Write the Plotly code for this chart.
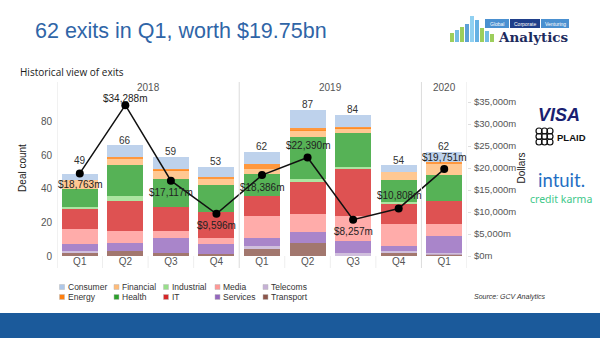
import plotly.graph_objects as go

# Exits per quarter, split by sector (deal counts)
quarters = ["Q1", "Q2", "Q3", "Q4", "Q1", "Q2", "Q3", "Q4", "Q1"]
years = ["2018", "2019", "2020"]
year_of_quarter = ["2018"] * 4 + ["2019"] * 4 + ["2020"]

transport = [2, 3, 2, 1, 4, 8, 0, 2, 1]
telecoms = [1, 0, 0, 0, 2, 0, 2, 1, 1]
services = [4, 5, 9, 6, 5, 6, 7, 3, 10]
media = [9, 7, 4, 4, 13, 11, 15, 13, 7]
it = [12, 18, 14, 15, 12, 19, 28, 12, 14]
industrial = [1, 3, 0, 0, 0, 2, 1, 1, 0]
health = [11, 18, 17, 16, 13, 25, 20, 13, 15]
financial = [5, 4, 5, 4, 3, 4, 3, 5, 7]
energy = [0, 1, 1, 1, 3, 1, 1, 0, 1]
consumer = [4, 7, 7, 6, 7, 11, 7, 4, 6]

# Total exit value per quarter, $m
dollars = [18763, 34288, 17117, 9596, 18386, 22390, 8257, 10808, 19751]

count_ticks = [0, 20, 40, 60, 80]
dollar_ticks = [0, 5000, 10000, 15000, 20000, 25000, 30000, 35000]

# Stack order bottom -> top
stack = [
    ("Transport", transport, "#8c564b"),
    ("Telecoms", telecoms, "#c5b0d5"),
    ("Services", services, "#9467bd"),
    ("Media", media, "#ff9896"),
    ("IT", it, "#d62728"),
    ("Industrial", industrial, "#98df8a"),
    ("Health", health, "#2ca02c"),
    ("Financial", financial, "#ffbb78"),
    ("Energy", energy, "#ff7f0e"),
    ("Consumer", consumer, "#aec7e8"),
]
colors = {name: c for name, _, c in stack}
legend_columns = [("Consumer", "Energy"), ("Financial", "Health"),
                  ("Industrial", "IT"), ("Media", "Services"),
                  ("Telecoms", "Transport")]

W, H = 600, 338
L, R, T, B = 57, 133, 80, 82
PW, PH = W - L - R, H - T - B
FONT = "Liberation Sans, Arial, sans-serif"


def fx(px):
    return (px - L) / PW


def fy(py):
    return (H - B - py) / PH


def note(px, py, text, size, color, family=FONT, xanchor="center", yanchor="middle", pad=1):
    return dict(x=fx(px), y=fy(py), xref="paper", yref="paper", text=text, showarrow=False,
                xanchor=xanchor, yanchor=yanchor, borderpad=pad,
                font=dict(size=size, color=color, family=family))


xs = list(range(len(quarters)))
totals = [sum(vals[i] for _, vals, _ in stack) for i in xs]

fig = go.Figure()
for name, vals, col in stack:
    fig.add_trace(go.Bar(x=xs, y=vals, name=name, marker=dict(color=col, line=dict(width=0)),
                         opacity=0.8, width=0.79, showlegend=False, hoverinfo="skip"))

# Dollar value line
fig.add_trace(go.Scatter(x=xs, y=dollars, yaxis="y2", mode="lines+markers",
                         line=dict(color="#111", width=1.5), marker=dict(color="#000", size=8),
                         showlegend=False, cliponaxis=False))

shapes = []
annotations = []

# Total deal count above each bar (first one lifted clear of the line marker)
count_shift = [13, 5, 5, 5, 5, 5, 5, 5, 5]
for i in xs:
    annotations.append(dict(x=i, y=totals[i], xref="x", yref="y", text=str(totals[i]), showarrow=False,
                            xanchor="center", yanchor="middle", yshift=count_shift[i],
                            font=dict(size=10, color="#333", family=FONT)))

# Dollar labels next to the line markers
dollar_shift = [-11, 7, -12, -12, -12, 12, -12, 13, 12]
for i in xs:
    annotations.append(dict(x=i, y=dollars[i], xref="x", yref="y2", text=f"${dollars[i]:,}m",
                            showarrow=False, xanchor="center", yanchor="middle", yshift=dollar_shift[i],
                            font=dict(size=10, color="#222", family=FONT)))

# Pane borders and year separators
for xv, colr in [(-0.5, "#e4e4e4"), (3.5, "#dcdcdc"), (7.5, "#dcdcdc"), (8.5, "#e4e4e4")]:
    shapes.append(dict(type="line", xref="x", yref="paper", x0=xv, x1=xv,
                       y0=fy(268), y1=fy(82), line=dict(color=colr, width=1)))
# Quarter separators in the header band
for xv in [0.5, 1.5, 2.5, 4.5, 5.5, 6.5]:
    shapes.append(dict(type="line", xref="x", yref="paper", x0=xv, x1=xv,
                       y0=fy(268), y1=fy(256), line=dict(color="#eeeeee", width=1)))

# Year headers
for yr in years:
    idx = [i for i, y in enumerate(year_of_quarter) if y == yr]
    annotations.append(dict(x=sum(idx) / len(idx), y=fy(87), xref="x", yref="paper",
                            xanchor="center", yanchor="middle",
                            text=yr, showarrow=False, font=dict(size=10, color="#555", family=FONT)))

# Title and subtitle
annotations.append(note(33, 31, "62 exits in Q1, worth $19.75bn", 21.5, "#2f65a7", xanchor="left"))
annotations.append(note(18, 72, "Historical view of exits", 10, "#1a1a1a",
                        family="Open Sans, sans-serif", xanchor="left"))

# Legend
col_x = [59.5, 114, 163.5, 215, 263]
row_y = [287, 297]
for cx, pair in zip(col_x, legend_columns):
    for ry, name in zip(row_y, pair):
        shapes.append(dict(type="rect", xref="paper", yref="paper", x0=fx(cx), x1=fx(cx + 5),
                           y0=fy(ry + 2.5), y1=fy(ry - 2.5), fillcolor=colors[name],
                           line=dict(width=0.5, color="#bbb")))
        annotations.append(note(cx + 7, ry, name, 8.5, "#333", xanchor="left", pad=0))

annotations.append(note(472, 297, "<i>Source: GCV Analytics</i>", 7, "#333", xanchor="left"))

# Footer band
shapes.append(dict(type="rect", xref="paper", yref="paper", x0=fx(0), x1=fx(W), y0=fy(H + 2), y1=fy(313),
                   fillcolor="#1b5a9b", line=dict(width=0)))

# GCV Analytics logo
tile_cols = [
    (450, 33, "#8cc63f"), (455, 30, "#5bb0e0"), (460, 27, "#8cc63f"), (465, 24, "#3f8fd0"),
    (470, 16, "#7dc8ef"), (475, 20, "#4aa3df"), (480, 28, "#8cc63f"), (485, 31, "#5bb0e0"),
    (490, 34, "#8cc63f"),
]
for tx, top, tc in tile_cols:
    shapes.append(dict(type="rect", xref="paper", yref="paper", x0=fx(tx), x1=fx(tx + 4),
                       y0=fy(42), y1=fy(top), fillcolor=tc, line=dict(width=0), opacity=0.85))
for bx, bw, label, bc in [(485, 24, "Global", "#4a90d0"), (510, 30, "Corporate", "#1f3f8a"),
                          (541, 28, "Venturing", "#4a90d0")]:
    shapes.append(dict(type="rect", xref="paper", yref="paper", x0=fx(bx), x1=fx(bx + bw),
                       y0=fy(28), y1=fy(19), fillcolor=bc, line=dict(width=0)))
    annotations.append(note(bx + bw / 2, 23.5, label, 5, "white"))
annotations.append(note(533, 37, "<b>Analytics</b>", 13.5, "#1d2b5e", family="DejaVu Serif, serif"))

# Side logos
annotations.append(note(559, 115, "<b><i>VISA</i></b>", 18, "#1a1f71"))
for gx in range(3):
    for gy in range(3):
        cxp, cyp = 539 + gx * 5.5, 131 + gy * 5.5
        shapes.append(dict(type="circle", xref="paper", yref="paper", x0=fx(cxp - 3), x1=fx(cxp + 3),
                           y0=fy(cyp + 3), y1=fy(cyp - 3), line=dict(color="#111", width=1.2)))
annotations.append(note(571, 137, "<b>PLAID</b>", 9.5, "#111"))
annotations.append(note(561, 180, "intuit.", 18.5, "#1f6fc4", family="Lato, sans-serif", pad=0))
annotations.append(note(561, 199, "credit karma", 10.5, "#3ec88a", family="Noto Sans, sans-serif", pad=0))

fig.update_layout(
    width=W, height=H, margin=dict(l=L, r=R, t=T, b=B),
    barmode="stack", bargap=0.21,
    plot_bgcolor="white", paper_bgcolor="white",
    font=dict(family=FONT, color="#555"),
    shapes=shapes, annotations=annotations,
    xaxis=dict(range=[-0.5, 8.5], tickmode="array", tickvals=xs, ticktext=quarters,
               showgrid=False, zeroline=False, showline=False, ticks="",
               tickfont=dict(size=10, color="#555"), ticklabelstandoff=-2),
    yaxis=dict(range=[0, 104.8], tickmode="array", tickvals=count_ticks,
               showgrid=False, zeroline=False, showline=False, ticks="",
               tickfont=dict(size=10, color="#555"), ticklabelstandoff=4,
               title=dict(text="Deal count", font=dict(size=10, color="#222"), standoff=12)),
    yaxis2=dict(range=[0, 40000], overlaying="y", side="right", tickmode="array",
                tickvals=dollar_ticks, ticktext=[f"${v:,}m" for v in dollar_ticks],
                showgrid=False, zeroline=False, showline=False, ticks="outside", ticklen=3,
                tickcolor="#dddddd", tickfont=dict(size=9.5, color="#555"), ticklabelstandoff=1,
                title=dict(text="Dollars", font=dict(size=10, color="#222"), standoff=0)),
)

fig.write_html("out.html")
